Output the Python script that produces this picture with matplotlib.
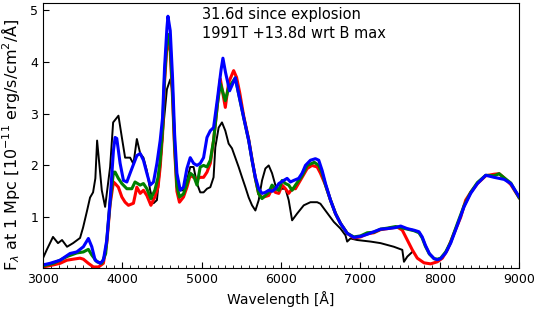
import numpy as np
import matplotlib
matplotlib.use('Agg')
import matplotlib.pyplot as ppl
from matplotlib.ticker import MultipleLocator

# --- spectra (wavelength in A, flux in 1e-11 erg/s/cm2/A) ---

wl_obs = [3000, 3047, 3126, 3189, 3240, 3303, 3379, 3467, 3505, 3556, 3593, 3631,
          3660, 3682, 3741, 3783, 3846, 3884, 3951, 3994, 4035, 4098, 4140, 4183,
          4225, 4266, 4309, 4351, 4393, 4436, 4477, 4520, 4562, 4604, 4625, 4645,
          4667, 4688, 4730, 4771, 4814, 4856, 4898, 4941, 4982, 5024, 5067, 5109,
          5150, 5172, 5214, 5256, 5298, 5340, 5382, 5424, 5466, 5509, 5551, 5593,
          5635, 5677, 5719, 5761, 5803, 5845, 5887, 5929, 5972, 6014, 6056, 6097,
          6140, 6203, 6287, 6371, 6456, 6497, 6540, 6603, 6666, 6750, 6813, 6834,
          6876, 6960, 7129, 7255, 7423, 7529, 7550, 7592, 7655]
f_obs = [0.21, 0.37, 0.62, 0.50, 0.56, 0.43, 0.50, 0.60, 0.80, 1.13, 1.38, 1.48,
         1.75, 2.48, 1.52, 1.20, 1.97, 2.83, 2.96, 2.54, 2.15, 2.15, 2.03, 2.51,
         2.23, 2.15, 1.90, 1.52, 1.27, 1.33, 1.97, 2.80, 3.47, 3.66, 3.50, 3.06,
         2.29, 1.71, 1.52, 1.52, 1.71, 1.97, 1.97, 1.65, 1.48, 1.48, 1.55, 1.58,
         1.77, 2.35, 2.73, 2.83, 2.67, 2.42, 2.33, 2.15, 1.97, 1.77, 1.58, 1.38,
         1.23, 1.13, 1.33, 1.71, 1.94, 2.00, 1.85, 1.62, 1.52, 1.55, 1.55, 1.33,
         0.94, 1.07, 1.23, 1.29, 1.29, 1.26, 1.17, 1.04, 0.91, 0.78, 0.65, 0.53,
         0.59, 0.56, 0.53, 0.50, 0.43, 0.37, 0.14, 0.24, 0.33]

wl_red = [3000, 3130, 3215, 3300, 3380, 3467, 3509, 3572, 3635, 3700, 3761, 3804,
          3846, 3888, 3909, 3950, 3994, 4035, 4077, 4140, 4183, 4225, 4266, 4309,
          4360, 4410, 4450, 4477, 4507, 4532, 4562, 4575, 4604, 4633, 4659, 4688,
          4720, 4771, 4814, 4856, 4898, 4941, 4982, 5024, 5067, 5109, 5150, 5200,
          5235, 5298, 5340, 5403, 5440, 5480, 5530, 5593, 5635, 5677, 5719, 5761,
          5803, 5845, 5887, 5929, 5972, 6014, 6056, 6097, 6140, 6182, 6266, 6330,
          6390, 6456, 6497, 6561, 6624, 6687, 6750, 6834, 6918, 7003, 7087, 7170,
          7255, 7340, 7466, 7529, 7592, 7655, 7718, 7802, 7886, 7971, 8034, 8097,
          8181, 8265, 8328, 8391, 8476, 8581, 8686, 8750, 8813, 8897, 9000]
f_red = [0.04, 0.08, 0.11, 0.17, 0.19, 0.21, 0.19, 0.11, 0.04, 0.04, 0.11, 0.50,
         1.25, 1.68, 1.65, 1.58, 1.39, 1.29, 1.23, 1.27, 1.58, 1.46, 1.52, 1.42,
         1.23, 1.39, 1.58, 1.97, 2.60, 3.60, 4.30, 4.42, 4.20, 3.30, 2.30, 1.50,
         1.29, 1.39, 1.58, 1.81, 1.77, 1.74, 1.77, 1.77, 1.87, 2.04, 2.48, 3.20,
         3.67, 3.12, 3.60, 3.83, 3.70, 3.40, 2.95, 2.50, 2.12, 1.75, 1.45, 1.38,
         1.40, 1.42, 1.55, 1.48, 1.46, 1.62, 1.55, 1.46, 1.55, 1.55, 1.77, 1.94,
         2.00, 1.97, 1.85, 1.62, 1.33, 1.07, 0.88, 0.69, 0.60, 0.62, 0.68, 0.70,
         0.76, 0.78, 0.81, 0.75, 0.56, 0.37, 0.21, 0.12, 0.10, 0.14, 0.21, 0.37,
         0.69, 1.00, 1.33, 1.48, 1.65, 1.80, 1.83, 1.84, 1.76, 1.63, 1.38]

wl_green = [3000, 3130, 3215, 3300, 3425, 3509, 3572, 3615, 3680, 3740, 3790, 3846,
            3888, 3909, 3950, 3994, 4057, 4120, 4160, 4225, 4266, 4309, 4360, 4410,
            4450, 4477, 4507, 4532, 4562, 4575, 4604, 4633, 4659, 4688, 4720, 4771,
            4814, 4856, 4898, 4941, 4982, 5024, 5067, 5109, 5150, 5200, 5235, 5298,
            5340, 5424, 5466, 5530, 5593, 5635, 5677, 5719, 5761, 5803, 5845, 5887,
            5929, 5972, 6014, 6056, 6097, 6140, 6182, 6266, 6330, 6420, 6476, 6519,
            6561, 6624, 6687, 6750, 6834, 6918, 7003, 7087, 7170, 7255, 7340, 7444,
            7508, 7592, 7676, 7739, 7780, 7820, 7870, 7930, 7971, 8013, 8076, 8139,
            8224, 8307, 8391, 8476, 8581, 8686, 8750, 8813, 8897, 9000]
f_green = [0.06, 0.11, 0.17, 0.24, 0.31, 0.33, 0.38, 0.27, 0.14, 0.11, 0.30, 1.30,
           1.87, 1.87, 1.75, 1.65, 1.55, 1.55, 1.68, 1.62, 1.65, 1.55, 1.36, 1.52,
           1.77, 2.10, 2.70, 3.70, 4.40, 4.53, 4.30, 3.40, 2.40, 1.60, 1.39, 1.45,
           1.65, 1.85, 1.80, 1.62, 1.97, 2.00, 1.97, 2.10, 2.48, 3.20, 3.58, 3.25,
           3.50, 3.69, 3.38, 2.92, 2.48, 2.10, 1.75, 1.45, 1.36, 1.42, 1.48, 1.62,
           1.55, 1.52, 1.71, 1.65, 1.62, 1.52, 1.62, 1.80, 2.00, 2.06, 2.00, 1.85,
           1.62, 1.33, 1.07, 0.88, 0.69, 0.62, 0.64, 0.70, 0.71, 0.77, 0.79, 0.82,
           0.80, 0.77, 0.74, 0.70, 0.60, 0.44, 0.29, 0.20, 0.19, 0.21, 0.33, 0.52,
           0.88, 1.22, 1.48, 1.67, 1.81, 1.80, 1.84, 1.76, 1.66, 1.38]

wl_blue = [3000, 3088, 3215, 3341, 3425, 3509, 3572, 3615, 3657, 3720, 3761, 3804,
           3846, 3888, 3909, 3930, 3972, 4014, 4057, 4098, 4183, 4225, 4266, 4309,
           4351, 4393, 4436, 4477, 4507, 4532, 4562, 4575, 4604, 4633, 4659, 4688,
           4730, 4771, 4814, 4856, 4898, 4941, 4982, 5024, 5067, 5109, 5150, 5200,
           5245, 5268, 5300, 5352, 5424, 5466, 5530, 5593, 5635, 5677, 5719, 5761,
           5803, 5845, 5887, 5929, 5972, 6034, 6077, 6119, 6160, 6223, 6266, 6308,
           6371, 6434, 6476, 6519, 6561, 6624, 6687, 6750, 6834, 6918, 7003, 7087,
           7170, 7255, 7340, 7444, 7508, 7592, 7676, 7739, 7780, 7820, 7870, 7930,
           7971, 8013, 8076, 8139, 8224, 8307, 8391, 8476, 8581, 8686, 8813, 8897,
           9000]
f_blue = [0.08, 0.11, 0.17, 0.30, 0.33, 0.43, 0.59, 0.43, 0.17, 0.11, 0.17, 0.56,
          1.33, 2.29, 2.54, 2.52, 2.04, 1.71, 1.68, 1.85, 2.19, 2.23, 2.10, 1.85,
          1.62, 1.68, 2.04, 2.48, 2.92, 3.88, 4.65, 4.88, 4.60, 3.69, 2.60, 1.85,
          1.52, 1.58, 1.94, 2.15, 2.04, 2.00, 2.04, 2.15, 2.54, 2.67, 2.73, 3.30,
          3.85, 4.07, 3.80, 3.44, 3.69, 3.38, 2.92, 2.48, 2.10, 1.77, 1.55, 1.46,
          1.48, 1.52, 1.50, 1.55, 1.65, 1.71, 1.75, 1.68, 1.71, 1.75, 1.85, 2.00,
          2.10, 2.13, 2.10, 1.90, 1.65, 1.33, 1.07, 0.88, 0.69, 0.61, 0.63, 0.67,
          0.72, 0.77, 0.78, 0.80, 0.83, 0.78, 0.75, 0.72, 0.62, 0.46, 0.30, 0.20,
          0.18, 0.20, 0.31, 0.50, 0.85, 1.20, 1.46, 1.65, 1.81, 1.77, 1.73, 1.65,
          1.40]

fig = ppl.figure(figsize=(5.38, 3.15), dpi=100)
ax = fig.add_axes([43/538, 1 - 268/315, 476/538, 265/315])

ax.plot(wl_obs, f_obs, color='k', lw=1.4)
ax.plot(wl_red, f_red, color='r', lw=2.2)
ax.plot(wl_green, f_green, color='g', lw=2.2)
ax.plot(wl_blue, f_blue, color='b', lw=2.2)

ax.set_xlim(3000, 9000)
ax.set_ylim(0.02, 5.135)
ax.set_yticks([1, 2, 3, 4, 5])
ax.xaxis.set_minor_locator(MultipleLocator(100))
ax.tick_params(which='both', direction='in', labelsize=9)
ax.tick_params(which='major', length=4)
ax.tick_params(which='minor', length=2.5)
ax.tick_params(axis='y', which='minor', left=False)

ax.set_xlabel(u'Wavelength [\u00c5]', fontsize=10)
ax.set_ylabel(u'F$_\\lambda$ at 1 Mpc [10$^{-11}$ erg/s/cm$^2$/\u00c5]', fontsize=11.5)
ax.yaxis.set_label_coords(-0.045, 0.465)

ax.text(0.334, 0.955, '31.6d since explosion', transform=ax.transAxes, fontsize=10.5, va='center')
ax.text(0.334, 0.885, '1991T +13.8d wrt B max', transform=ax.transAxes, fontsize=10.5, va='center')

fig.savefig('out.png', dpi=100)
